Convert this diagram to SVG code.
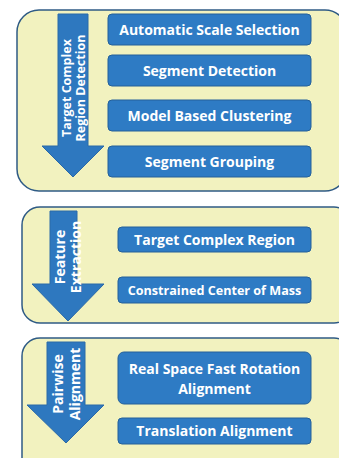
<svg xmlns="http://www.w3.org/2000/svg" width="339" height="458" viewBox="0 0 339 458">
<style>
.panel{fill:#f2f2bf;stroke:#2f5b85;stroke-width:1.5}
.box{fill:#2e7bc4;stroke:#24609a;stroke-width:1}
.arrow{fill:#2e78bf;stroke:#2a6aa8;stroke-width:1}
.t{font-family:"Open Sans","Liberation Sans",sans-serif;font-weight:bold;font-size:14px;fill:#ffffff;text-anchor:middle}
.a{font-family:"Open Sans","Liberation Sans",sans-serif;font-weight:bold;font-size:12.5px;fill:#ffffff;text-anchor:middle}
.b{font-family:"Open Sans","Liberation Sans",sans-serif;font-weight:bold;font-size:14px;fill:#ffffff;text-anchor:middle}
</style>
<g id="panel1">
<rect class="panel" x="17" y="10" width="330" height="181" rx="22"/>
<polygon class="arrow" points="58,14 88,14 88,146 104,146 73,177 42,146 58,146"/>
<text class="a" transform="translate(66.5,88) rotate(-90)" dy="4.5">Target Complex</text>
<text class="a" transform="translate(80.5,88) rotate(-90)" dy="4.5">Region Detection</text>
</g>
<g id="n1"><rect class="box" x="108" y="14" width="203" height="31" rx="4"/><text class="t" x="209.5" y="35">Automatic Scale Selection</text></g>
<g id="n2"><rect class="box" x="108" y="55" width="203" height="31" rx="4"/><text class="t" x="209.5" y="76">Segment Detection</text></g>
<g id="n3"><rect class="box" x="108" y="100" width="203" height="31" rx="4"/><text class="t" x="209.5" y="121">Model Based Clustering</text></g>
<g id="n4"><rect class="box" x="108" y="146" width="203" height="31" rx="4"/><text class="t" x="209.5" y="167">Segment Grouping</text></g>
<g id="panel2">
<rect class="panel" x="22" y="207" width="330" height="116" rx="18"/>
<polygon class="arrow" points="50,211 77,211 77,284 104,284 68,321 32,284 50,284"/>
<text class="b" transform="translate(60,257) rotate(-90)" dy="5">Feature</text>
<text class="b" transform="translate(75.5,257) rotate(-90)" dy="5">Extraction</text>
</g>
<g id="n5"><rect class="box" x="118" y="227" width="193" height="25" rx="4"/><text class="t" x="214.5" y="244.5">Target Complex Region</text></g>
<g id="n6"><rect class="box" x="118" y="277" width="193" height="26" rx="4"/><text class="t" x="214.5" y="295" style="font-size:12.6px">Constrained Center of Mass</text></g>
<g id="panel3">
<rect class="panel" x="22" y="338" width="330" height="140" rx="18"/>
<polygon class="arrow" points="47,342 85,342 85,405 104,405 66,443 27,405 47,405"/>
<text class="b" transform="translate(57.5,384) rotate(-90)" dy="5">Pairwise</text>
<text class="b" transform="translate(75,384) rotate(-90)" dy="5">Alignment</text>
</g>
<g id="n7"><rect class="box" x="118" y="352" width="193" height="52" rx="6"/><text class="t" x="214.5" y="374">Real Space Fast Rotation</text><text class="t" x="214.5" y="393.5">Alignment</text></g>
<g id="n8"><rect class="box" x="118" y="418" width="193" height="26" rx="4"/><text class="t" x="214.5" y="436">Translation Alignment</text></g>
<g id="connectors"></g>
</svg>
